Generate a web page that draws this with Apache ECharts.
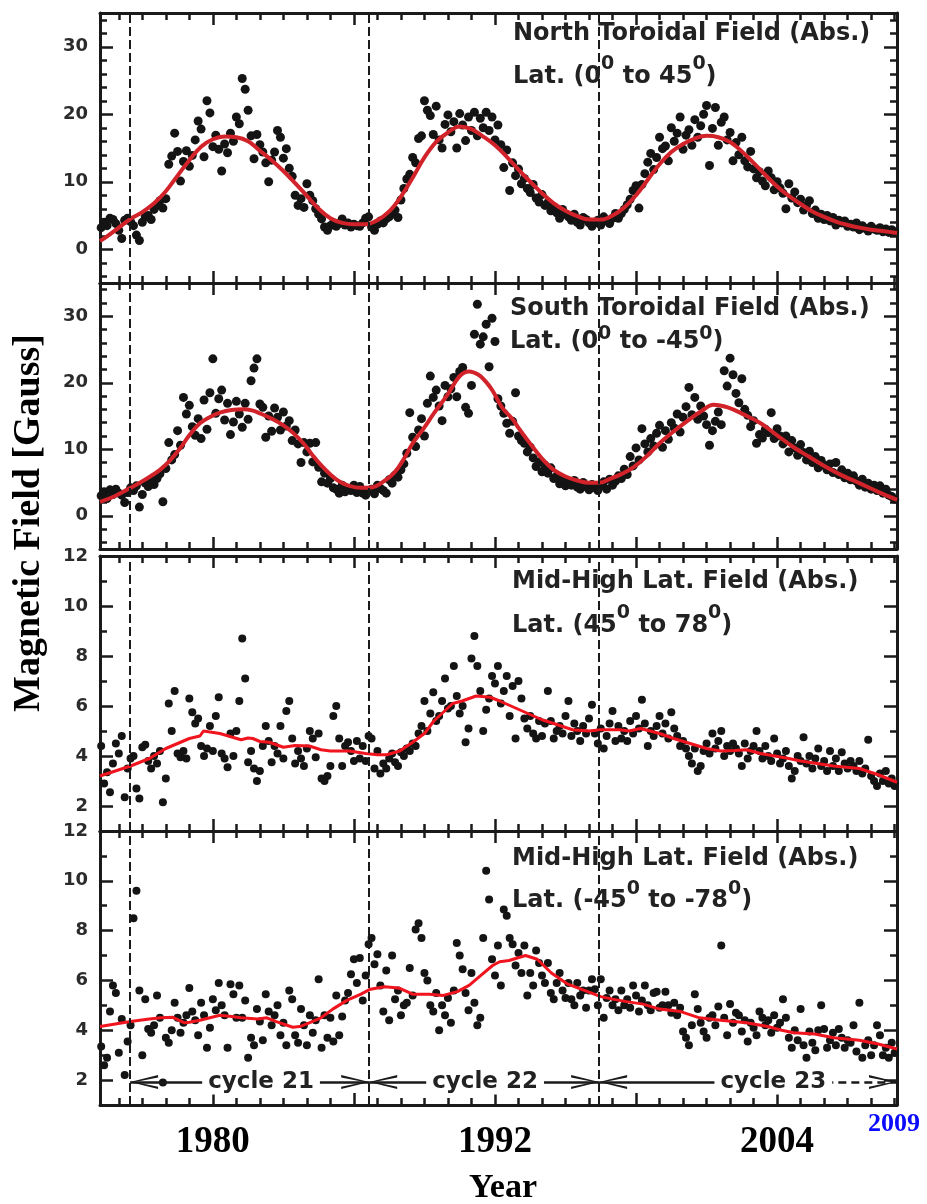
<!DOCTYPE html>
<html><head><meta charset="utf-8">
<script src="https://cdn.jsdelivr.net/npm/echarts@6/dist/echarts.min.js"></script>
<style>html,body{margin:0;padding:0;background:#fff}#c{width:927px;height:1204px}</style>
</head><body><div id="c"></div>
<script>
// ---------- axis / tick data ----------
const X_MIN = 1975.2, X_MAX = 2009.1;
const xMajorTicks = [1980, 1986, 1992, 1998, 2004];
const xLabelTicks = [1980, 1992, 2004];
const xMinorTicks = [1976,1977,1978,1979,1981,1982,1983,1984,1985,1987,1988,1989,1990,1991,1993,1994,1995,1996,1997,1999,2000,2001,2002,2003,2005,2006,2007,2008,2009];
const toroidalRange = [-5, 35];
const toroidalMajor = [0, 10, 20, 30];
const toroidalMinor = [-4,-2,2,4,6,8,12,14,16,18,22,24,26,28,32,34];
const polarRange = [1, 12];
const polarMajor = [2, 4, 6, 8, 10, 12];
const polarMinor = [3, 5, 7, 9, 11];
const cycleStarts = [1976.48, 1986.65, 1996.43];
const cycleNames = ['cycle 21', 'cycle 22', 'cycle 23'];
const cycleLabelX = [1982.05, 1991.58, 2003.84];
const cycleArrowY = 1.92;

// ---------- observations: 8 samples / year starting 1975.25 ----------
const SAMPLE_START = 1975.25, SAMPLE_STEP = 0.125;
const northRows = [
 [3.2,4.0,3.5,4.6,4.4,3.8,2.8,1.6],
 [4.3,4.6,4.1,3.5,2.1,1.3,4.0,4.8],
 [5.0,4.4,5.9,6.5,7.2,6.1,7.5,12.6],
 [13.8,17.2,14.5,10.1,13.0,14.6,12.3,13.9],
 [16.2,19.0,17.8,13.7,22.0,20.2,15.2,16.9],
 [14.8,11.6,15.6,14.3,17.2,16.0,19.6,18.6],
 [25.3,23.7,20.6,16.8,13.4,17.0,15.5,14.4],
 [12.8,10.0,13.2,14.4,17.6,16.6,13.5,14.9],
 [12.0,10.8,8.0,6.5,7.5,6.2,9.7,8.0],
 [7.2,6.0,5.2,4.5,3.3,2.8,3.5,3.9],
 [3.4,3.8,4.5,3.6,3.9,3.3,3.7,3.5],
 [3.4,3.9,4.6,4.8,3.3,2.8,3.7,4.2],
 [3.9,4.5,4.8,5.2,5.8,4.7,7.3,9.0],
 [10.4,11.1,13.6,12.8,16.4,16.8,22.0,20.6],
 [19.8,17.0,21.2,16.2,15.0,18.5,19.9,17.4],
 [18.9,15.0,20.1,18.4,16.1,19.6,17.6,20.3],
 [16.8,19.4,18.0,20.3,17.6,19.6,16.2,18.4],
 [15.5,12.1,14.7,8.7,12.8,10.9,11.9,9.7],
 [10.5,9.0,8.4,9.6,7.6,7.0,8.1,6.5],
 [6.9,5.7,6.3,5.4,4.6,5.9,5.2,4.8],
 [4.3,5.2,4.0,3.6,4.7,4.4,3.9,3.4],
 [3.9,4.3,3.6,4.8,4.2,3.8,4.6,5.3],
 [4.6,5.3,5.9,6.6,7.4,8.7,9.4,6.1],
 [9.6,11.2,12.9,14.2,11.8,13.6,16.6,14.9],
 [15.3,13.1,18.0,16.0,17.2,19.6,14.8,16.9],
 [17.7,15.4,19.2,16.6,18.3,20.0,21.3,12.4],
 [17.9,21.0,15.4,18.8,19.6,16.2,17.3,13.1],
 [15.8,14.0,16.6,13.1,12.2,14.5,11.9,10.6],
 [11.5,10.1,9.4,11.6,10.6,8.8,10.0,9.1],
 [8.3,6.0,9.7,7.6,8.5,6.9,7.4,5.8],
 [6.5,7.2,5.3,5.8,4.6,5.2,4.4,5.0],
 [4.2,4.7,3.6,4.3,3.9,4.2,3.4,3.7],
 [3.3,3.9,2.9,3.5,3.1,2.7,3.4,3.0],
 [2.8,3.2,2.6,3.0,2.5,2.9,2.6]
];
const southRows = [
 [3.0,3.6,2.6,3.9,3.2,4.0,3.4,3.1],
 [2.0,3.5,4.2,3.8,4.5,1.3,3.2,4.9],
 [4.4,5.2,4.7,5.6,6.3,2.1,7.1,11.0],
 [8.4,9.2,12.8,10.6,17.8,15.3,16.6,13.4],
 [12.1,14.6,11.6,17.4,13.0,18.5,23.6,15.4],
 [17.6,18.9,14.4,16.9,12.2,14.1,17.2,15.3],
 [13.3,16.9,14.5,20.3,22.2,23.6,16.8,16.3],
 [11.8,15.0,12.7,16.2,14.8,12.9,15.6,13.5],
 [14.3,11.3,12.9,10.8,8.0,11.0,9.6,10.9],
 [8.1,11.0,7.3,5.1,6.4,4.9,5.6,4.2],
 [4.0,3.4,4.6,3.6,4.1,3.8,4.6,3.5],
 [4.4,3.4,3.1,3.7,4.0,3.3,4.6,4.1],
 [3.8,3.4,5.4,4.9,6.1,5.8,6.9,7.8],
 [9.4,15.5,11.8,10.4,12.9,14.6,12.0,16.9],
 [21.0,17.8,18.9,16.5,14.3,19.6,17.9,19.1],
 [20.8,17.9,21.7,22.3,16.3,15.4,19.6,27.3],
 [31.8,25.8,26.9,28.8,22.4,29.7,26.2,17.6],
 [16.5,15.4,13.9,12.4,14.2,18.5,12.0,11.3],
 [10.9,9.6,10.3,8.7,7.4,8.1,6.6,7.6],
 [6.4,7.2,5.6,6.0,4.8,5.5,4.5,5.1],
 [4.6,5.3,4.3,4.0,5.0,4.4,3.9,4.7],
 [4.2,3.8,4.5,5.1,4.0,5.5,4.6,5.2],
 [6.0,5.6,7.0,6.2,8.9,7.5,10.2,8.4],
 [13.1,10.8,9.6,11.6,10.5,12.4,13.6,10.3],
 [12.8,11.5,14.0,13.2,15.3,12.6,14.8,16.4],
 [19.3,15.2,17.8,14.5,16.5,15.0,13.7,10.6],
 [12.8,14.2,15.6,13.7,21.8,19.5,23.7,21.2],
 [18.4,17.0,20.6,16.0,15.1,13.4,14.3,10.9],
 [12.2,11.7,13.0,12.5,15.5,11.6,13.1,12.0],
 [10.8,12.0,9.6,11.3,10.2,9.1,10.7,9.5],
 [8.4,9.7,8.0,8.9,7.2,8.3,7.6,6.9],
 [7.8,6.5,8.0,6.2,6.9,5.7,6.4,5.4],
 [6.0,5.2,4.6,5.5,4.3,4.9,4.0,4.6],
 [3.8,4.5,3.4,4.0,3.1,2.9,2.5]
];
const midNorthRows = [
 [4.4,2.9,3.35,2.55,3.7,4.5,4.1,4.8],
 [2.35,3.5,3.9,4.0,2.7,2.3,4.35,4.45],
 [3.8,3.5,4.0,3.7,4.2,2.15,3.1,6.1],
 [5.0,6.6,4.1,3.95,4.2,3.9,6.3,5.75],
 [5.3,5.5,4.4,4.0,4.3,5.2,4.2,5.6],
 [6.35,4.1,3.9,3.55,4.9,4.0,5.0,6.2],
 [8.7,7.1,3.75,4.2,3.5,3.0,3.4,4.4],
 [5.2,4.6,3.75,4.4,4.1,5.2,3.9,5.8],
 [6.2,4.7,3.7,4.2,3.9,3.6,4.3,5.0],
 [4.7,3.95,4.9,3.1,3.0,3.2,3.6,5.6],
 [6.0,4.7,3.6,4.4,4.55,4.2,3.8,4.6],
 [3.9,4.4,3.8,4.8,4.7,3.5,4.2,3.3],
 [3.7,3.5,3.9,4.1,3.75,3.6,4.15,4.0],
 [4.3,4.2,4.5,4.4,4.9,5.2,6.2,5.0],
 [5.7,6.55,5.4,5.6,6.2,7.1,5.9,6.0],
 [7.6,6.4,5.7,6.0,4.55,5.1,7.9,8.8],
 [7.6,6.6,5.0,5.85,6.3,7.2,6.9,7.6],
 [6.1,6.6,7.2,5.6,6.8,4.7,7.0,6.3],
 [5.5,5.1,5.6,4.9,4.7,5.4,4.8,5.3],
 [6.6,5.4,4.7,5.0,5.2,4.9,5.6,6.2],
 [4.8,5.3,5.0,4.6,5.2,4.9,5.5,6.05],
 [4.9,4.5,5.1,4.3,4.8,5.3,5.8,4.6],
 [5.2,4.7,5.0,4.6,5.4,4.9,5.6,5.1],
 [6.25,5.3,4.4,5.0,4.8,5.2,5.6,4.9],
 [5.3,4.7,5.75,5.1,4.8,4.4,4.6,4.3],
 [4.0,3.7,4.3,3.4,3.6,4.2,4.5,4.1],
 [4.9,4.3,4.6,5.0,4.0,4.4,4.2,4.5],
 [4.3,4.1,3.6,4.5,3.9,4.2,4.4,5.0],
 [4.2,3.9,4.4,4.0,3.8,4.7,4.1,3.7],
 [3.9,4.2,3.6,3.1,3.4,4.0,3.8,4.75],
 [3.7,4.0,3.5,3.9,4.3,3.6,3.8,3.4],
 [4.2,3.6,3.9,3.4,4.15,3.7,3.5,3.8],
 [3.6,3.4,3.8,3.3,3.5,4.65,3.2,3.0],
 [2.8,3.3,3.0,3.4,2.9,3.1,2.8]
];
const midSouthRows = [
 [3.35,2.6,2.9,4.75,5.8,5.5,3.1,4.45],
 [2.2,3.55,4.2,8.5,9.6,5.6,3.0,5.25],
 [4.05,3.9,4.2,5.4,4.5,1.9,3.7,3.5],
 [4.0,5.1,4.5,3.9,4.3,4.6,5.7,4.75],
 [4.4,3.8,5.1,4.6,3.3,4.1,5.25,4.8],
 [5.9,5.0,4.6,3.3,5.85,5.45,4.5,5.8],
 [4.5,5.2,2.9,3.7,3.4,4.85,4.35,3.6],
 [5.45,4.75,4.2,4.6,5.0,3.8,4.3,3.4],
 [5.6,5.25,3.8,3.5,4.85,4.2,3.4,4.6],
 [3.9,4.4,6.05,3.3,4.6,3.7,4.5,3.55],
 [5.4,3.8,4.55,5.2,5.5,6.25,6.85,5.9],
 [6.9,5.2,6.2,7.45,7.7,6.65,7.05,5.8],
 [4.75,6.4,4.4,7.0,5.25,5.6,4.6,5.0],
 [5.1,6.5,5.4,8.05,8.3,7.7,6.3,6.0],
 [5.0,4.75,5.5,4.0,5.0,4.6,5.3,4.3],
 [5.6,7.5,7.0,6.45,5.5,4.8,6.3,5.1],
 [4.2,4.5,7.7,10.4,9.25,6.85,6.2,7.4],
 [5.8,8.85,8.6,7.7,7.45,6.6,7.1,6.3],
 [7.4,5.4,6.3,5.8,7.2,6.7,6.2,5.9],
 [6.7,5.5,5.25,5.9,6.3,5.6,5.3,5.9],
 [5.25,5.0,5.9,5.4,5.6,4.9,5.6,6.05],
 [5.65,5.0,6.05,4.5,5.3,5.6,5.0,5.25],
 [4.8,5.6,5.0,5.25,4.9,5.8,5.4,4.75],
 [5.2,5.8,5.0,4.8,5.5,5.55,4.9,5.0],
 [5.55,5.0,4.7,5.1,4.6,4.9,3.95,3.7],
 [3.4,4.2,5.45,4.85,4.3,3.95,3.7,4.5],
 [4.6,4.2,4.95,7.4,4.5,3.8,5.05,4.3],
 [4.7,4.6,3.95,4.4,3.55,4.3,4.1,3.8],
 [4.75,4.5,4.2,4.4,3.9,4.6,4.1,4.3],
 [5.25,4.5,3.7,3.3,4.0,3.6,4.85,3.4],
 [2.9,3.95,3.5,3.2,4.0,5.0,4.05,3.3],
 [3.6,3.9,3.4,4.05,3.7,3.3,3.6,3.5],
 [4.2,3.15,5.1,2.9,3.4,3.6,3.0,3.4],
 [4.2,3.8,3.0,3.3,2.9,3.5,3.1]
];

// ---------- fitted curves [year, value] ----------
const northFit = [[1975.2,1.2],[1975.5,1.9],[1976,3.2],[1976.5,4.5],[1977,5.5],[1977.5,6.8],[1978,8.6],[1978.5,10.9],[1979,13.2],[1979.5,15.2],[1980,16.3],[1980.5,16.7],[1981,16.6],[1981.5,16.0],[1982,14.6],[1982.5,13.2],[1983,11.6],[1983.5,9.8],[1984,7.9],[1984.5,6.0],[1985,4.6],[1985.5,3.9],[1986,3.7],[1986.5,3.7],[1987,4.3],[1987.5,5.6],[1988,7.8],[1988.5,10.6],[1989,13.6],[1989.5,15.9],[1990,17.3],[1990.5,18.2],[1991,17.8],[1991.5,16.7],[1992,15.4],[1992.5,13.7],[1993,11.8],[1993.5,10.0],[1994,8.3],[1994.5,6.8],[1995,5.7],[1995.5,4.9],[1996,4.4],[1996.5,4.4],[1997,5.0],[1997.5,6.2],[1998,8.0],[1998.5,10.3],[1999,12.6],[1999.5,14.4],[2000,15.6],[2000.5,16.4],[2001,16.8],[2001.5,16.6],[2002,15.9],[2002.5,14.5],[2003,12.8],[2003.5,11.0],[2004,9.3],[2004.5,7.9],[2005,6.7],[2005.5,5.6],[2006,4.8],[2006.5,4.1],[2007,3.6],[2007.5,3.2],[2008,2.9],[2008.5,2.7],[2009.1,2.4]];
const southFit = [[1975.2,2.1],[1975.8,2.9],[1976.5,4.2],[1977.1,5.4],[1977.75,6.9],[1978.2,8.4],[1978.6,10.1],[1979,12.1],[1979.45,13.9],[1979.9,14.9],[1980.3,15.5],[1980.8,15.9],[1981.3,16.0],[1981.7,15.8],[1982,15.4],[1982.5,14.6],[1983,13.6],[1983.4,12.5],[1983.85,10.9],[1984.2,9.3],[1984.6,7.6],[1985,6.2],[1985.4,5.1],[1985.8,4.5],[1986.3,4.2],[1986.8,4.3],[1987.2,5.0],[1987.7,6.4],[1988.1,8.4],[1988.5,10.9],[1989,13.3],[1989.4,15.4],[1990,18.3],[1990.5,21.0],[1990.9,21.7],[1991.3,21.2],[1991.6,20.2],[1991.9,18.8],[1992.3,16.3],[1992.8,14.3],[1993,13.2],[1993.4,11.3],[1994,8.6],[1994.5,6.9],[1995,5.9],[1995.5,5.3],[1996,4.95],[1996.5,5.0],[1996.8,5.4],[1997.4,6.3],[1997.9,7.3],[1998.5,9.1],[1999,10.9],[1999.5,12.4],[2000.2,14.3],[2000.8,15.8],[2001.3,16.7],[2001.9,16.3],[2002.6,15.2],[2003.3,13.9],[2004,12.1],[2004.7,10.3],[2005.4,8.8],[2006.1,7.3],[2006.8,6.0],[2007.5,4.9],[2008.3,3.6],[2009.1,2.4]];
const midNorthFit = [[1975.2,3.2],[1976.5,3.6],[1977.3,3.9],[1978,4.3],[1979,4.7],[1979.45,4.8],[1979.6,5.0],[1980.3,4.9],[1981.2,4.65],[1981.5,4.72],[1981.7,4.7],[1982,4.58],[1982.4,4.55],[1983,4.35],[1983.5,4.42],[1984.1,4.4],[1984.6,4.25],[1985,4.2],[1985.8,4.2],[1986.5,4.1],[1987,4.05],[1987.4,4.05],[1987.95,4.2],[1988.5,4.55],[1989,4.9],[1989.4,5.4],[1990.2,6.1],[1990.6,6.2],[1991.2,6.4],[1991.8,6.35],[1992.2,6.2],[1992.8,5.95],[1993.4,5.7],[1994,5.45],[1994.5,5.3],[1995.3,5.05],[1996,5.0],[1996.5,5.05],[1997.3,5.05],[1997.7,5.0],[1998.2,5.1],[1998.6,5.0],[1999,4.9],[1999.6,4.7],[2000.3,4.5],[2001,4.3],[2001.6,4.2],[2002.2,4.22],[2002.7,4.25],[2003.3,4.1],[2003.9,4.0],[2004.5,3.9],[2005,3.8],[2005.7,3.7],[2006.4,3.6],[2007.5,3.5],[2008.3,3.25],[2009.1,2.95]];
const midSouthFit = [[1975.2,4.15],[1976.5,4.35],[1977.3,4.45],[1977.8,4.5],[1978.3,4.52],[1978.8,4.3],[1979,4.32],[1979.45,4.4],[1980.3,4.6],[1980.8,4.55],[1981.2,4.5],[1981.9,4.45],[1982.3,4.5],[1982.7,4.35],[1983.4,4.12],[1983.7,4.15],[1984.1,4.3],[1984.6,4.5],[1985.1,4.85],[1985.7,5.2],[1986.3,5.45],[1986.7,5.65],[1987.3,5.75],[1987.9,5.7],[1988.5,5.45],[1989.2,5.45],[1989.8,5.4],[1990.4,5.55],[1990.9,5.8],[1991.4,6.2],[1991.9,6.6],[1992.2,6.75],[1992.6,6.8],[1993.3,7.0],[1993.8,6.85],[1994.4,6.3],[1995.1,5.85],[1995.8,5.6],[1996.5,5.35],[1997,5.25],[1997.6,5.15],[1998.3,5.05],[1999,4.85],[1999.9,4.75],[2000.7,4.5],[2001.6,4.4],[2002.7,4.3],[2003.6,4.15],[2004.2,4.0],[2004.7,3.9],[2005.6,3.85],[2006.4,3.7],[2007.5,3.6],[2008.3,3.45],[2009.1,3.25]];

// ---------- build ----------
function toPoints(rows) {
  return rows.flat().map((v, i) => [+(SAMPLE_START + i * SAMPLE_STEP).toFixed(3), v]);
}
const INK = '#1a1a1a';
const grids = [
  { left: 100, top: 13, width: 797, height: 270 },
  { left: 100, top: 283, width: 797, height: 266 },
  { left: 100, top: 556, width: 797, height: 275 },
  { left: 100, top: 831, width: 797, height: 274 }
];
const panels = [
  { rows: northRows, fit: northFit, range: toroidalRange, major: toroidalMajor, minor: toroidalMinor, fitColor: '#d2232a', fitWidth: 4, smooth: 0.4, dot: 9 },
  { rows: southRows, fit: southFit, range: toroidalRange, major: toroidalMajor, minor: toroidalMinor, fitColor: '#d2232a', fitWidth: 4, smooth: 0.4, dot: 9 },
  { rows: midNorthRows, fit: midNorthFit, range: polarRange, major: polarMajor, minor: polarMinor, fitColor: '#f0141e', fitWidth: 3, smooth: false, dot: 8 },
  { rows: midSouthRows, fit: midSouthFit, range: polarRange, major: polarMajor, minor: polarMinor, fitColor: '#f0141e', fitWidth: 3, smooth: false, dot: 8 }
];

const xAxis = [], yAxis = [], series = [];
panels.forEach((p, gi) => {
  const baseX = { type: 'value', gridIndex: gi, min: X_MIN, max: X_MAX, splitLine: { show: false },
    axisLine: { show: true, onZero: false, lineStyle: { color: INK, width: 3 } }, axisLabel: { show: false } };
  const tickStyle = { color: INK, width: 2.5 };
  ['bottom', 'top'].forEach(pos => {
    const major = Object.assign({}, baseX, { position: pos,
      axisTick: { show: true, inside: true, length: 12, customValues: xMajorTicks, lineStyle: tickStyle } });
    if (gi === 3 && pos === 'bottom') {
      major.axisLabel = { show: true, customValues: xLabelTicks, margin: 19, color: '#000',
        formatter: v => String(Math.round(v)),
        fontFamily: '"Liberation Serif", serif', fontWeight: 'bold', fontSize: 37 };
    }
    xAxis.push(major);
    xAxis.push(Object.assign({}, baseX, { position: pos, axisLine: { show: false, onZero: false },
      axisTick: { show: true, inside: true, length: 7, customValues: xMinorTicks, lineStyle: tickStyle } }));
  });
  const baseY = { type: 'value', gridIndex: gi, min: p.range[0], max: p.range[1], splitLine: { show: false },
    axisLine: { show: true, onZero: false, lineStyle: { color: INK, width: 3 } }, axisLabel: { show: false } };
  ['left', 'right'].forEach(pos => {
    const major = Object.assign({}, baseY, { position: pos,
      axisTick: { show: true, inside: true, length: 13, customValues: p.major, lineStyle: tickStyle } });
    if (pos === 'left') {
      major.axisLabel = { show: true, customValues: p.major, margin: 12, color: '#2b2b2b',
        fontFamily: '"DejaVu Sans", sans-serif', fontWeight: 'bold', fontSize: 18 };
    }
    yAxis.push(major);
    yAxis.push(Object.assign({}, baseY, { position: pos, axisLine: { show: false, onZero: false },
      axisTick: { show: true, inside: true, length: 7, customValues: p.minor, lineStyle: tickStyle } }));
  });
  const xi = gi * 4, yi = gi * 4;
  series.push({
    type: 'scatter', xAxisIndex: xi, yAxisIndex: yi, data: toPoints(p.rows),
    symbolSize: p.dot, itemStyle: { color: '#141414', opacity: 1 }, silent: true, z: 2,
    markLine: { silent: true, symbol: ['none', 'none'], label: { show: false },
      lineStyle: { color: INK, width: 2, type: [9, 4] },
      data: cycleStarts.map(v => ({ xAxis: v })) }
  });
  const fitSeries = {
    type: 'line', xAxisIndex: xi, yAxisIndex: yi, data: p.fit, smooth: p.smooth,
    showSymbol: false, symbol: 'none', lineStyle: { color: p.fitColor, width: p.fitWidth }, silent: true, z: 3
  };
  if (gi === 3) {
    const CHEV = 'path://M7,0L7.01,0L7,0.02Z M7,28L14,56L11.6,56L7,33L2.4,56L0,56Z';
    const y = cycleArrowY;
    fitSeries.markLine = {
      silent: true, label: { show: false }, symbol: ['none', 'none'],
      lineStyle: { color: INK, width: 2.5, type: 'solid' },
      data: [
        [{ coord: [cycleStarts[0], y], symbol: CHEV, symbolSize: [14, 56] }, { coord: [cycleStarts[1], y], symbol: CHEV, symbolSize: [14, 56] }],
        [{ coord: [cycleStarts[1], y], symbol: CHEV, symbolSize: [14, 56] }, { coord: [cycleStarts[2], y], symbol: CHEV, symbolSize: [14, 56] }],
        [{ coord: [cycleStarts[2], y], symbol: CHEV, symbolSize: [14, 56] }, { coord: [cycleLabelX[2], y], symbol: 'none' }],
        [{ coord: [cycleLabelX[2], y], symbol: 'none', lineStyle: { type: [8, 5], color: INK, width: 2.5 } }, { coord: [X_MAX, y], symbol: CHEV, symbolSize: [14, 56] }]
      ]
    };
  }
  series.push(fitSeries);
});

const panelText = [
  { l1: 'North Toroidal Field (Abs.)', a: 'Lat. (0', b: ' to 45', c: ')', left: 513, top: 12, lh: 43 },
  { l1: 'South Toroidal Field (Abs.)', a: 'Lat. (0', b: ' to -45', c: ')', left: 510, top: 292, lh: 33 },
  { l1: 'Mid-High Lat. Field (Abs.)', a: 'Lat. (45', b: ' to 78', c: ')', left: 512, top: 560, lh: 44 },
  { l1: 'Mid-High Lat. Field (Abs.)', a: 'Lat. (-45', b: ' to -78', c: ')', left: 512, top: 838, lh: 42 }
];
const title = panelText.map(t => ({
  left: t.left, top: t.top, padding: 0,
  text: '{m|' + t.l1 + '}\n{m|' + t.a + '}{s|0}{m|' + t.b + '}{s|0}{m|' + t.c + '}',
  textStyle: { rich: {
    m: { fontFamily: '"DejaVu Sans", sans-serif', fontWeight: 'bold', fontSize: 24, color: '#222', lineHeight: t.lh },
    s: { fontFamily: '"DejaVu Sans", sans-serif', fontWeight: 'bold', fontSize: 19, color: '#222', lineHeight: t.lh - 20, verticalAlign: 'top' }
  } }
}));

const chart = echarts.init(document.getElementById('c'), null, { renderer: 'canvas' });
chart.setOption({
  animation: false,
  backgroundColor: '#fff',
  grid: grids.map(g => Object.assign({ outerBoundsMode: 'none', containLabel: false }, g)),
  xAxis, yAxis, series, title,
  graphic: [
    { id: 'ytitle', type: 'text', x: 29, y: 523, rotation: Math.PI / 2,
      style: { text: 'Magnetic Field [Gauss]', font: 'bold 38px "Liberation Serif", serif', fill: '#000', align: 'center', verticalAlign: 'middle' } },
    { id: 'xtitle', type: 'text', x: 503, y: 1188,
      style: { text: 'Year', font: 'bold 34px "Liberation Serif", serif', fill: '#000', align: 'center', verticalAlign: 'middle' } },
    { id: 'endyear', type: 'text', x: 894, y: 1124,
      style: { text: '2009', font: 'bold 26px "Liberation Serif", serif', fill: '#0a0aff', align: 'center', verticalAlign: 'middle' } }
  ]
});
// cycle labels placed through the panel-4 coordinate system
const cycleGraphics = cycleLabelX.map((v, i) => {
  const pt = chart.convertToPixel({ gridIndex: 3 }, [v, cycleArrowY]);
  return { id: 'cyc' + i, type: 'text', x: pt[0], y: pt[1], z: 100,
    style: { text: cycleNames[i], font: 'bold 23px "DejaVu Sans", sans-serif', fill: '#222',
      align: 'center', verticalAlign: 'middle', backgroundColor: '#fff', padding: [1, 6] } };
});
chart.setOption({ graphic: cycleGraphics });
</script></body></html>
